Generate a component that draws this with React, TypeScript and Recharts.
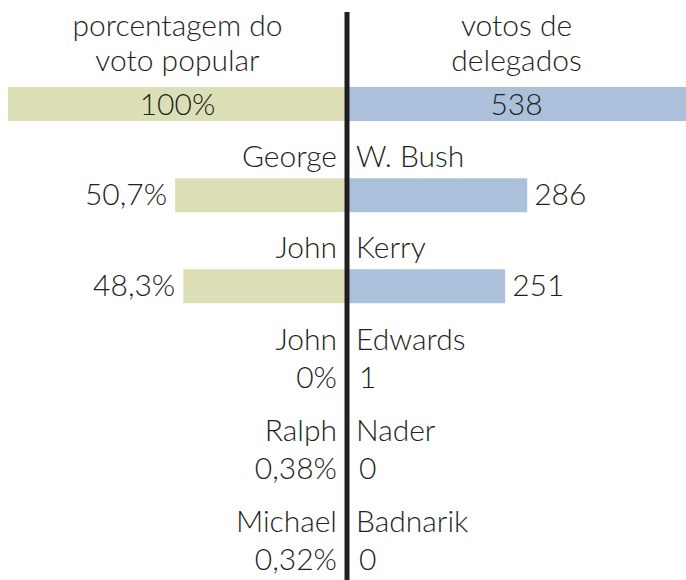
import React from 'react';
import { BarChart, Bar, XAxis, YAxis, ReferenceLine, LabelList } from 'recharts';

const rowKeys = ['total', 'bush', 'kerry', 'edwards', 'nader', 'badnarik'];
const firstNames = ['', 'George', 'John', 'John', 'Ralph', 'Michael'];
const lastNames = ['', 'W. Bush', 'Kerry', 'Edwards', 'Nader', 'Badnarik'];
const popularPct = [100, 50.7, 48.3, 0, 0.38, 0.32];
const popularLabels = ['100%', '50,7%', '48,3%', '0%', '0,38%', '0,32%'];
const electoralVotes = [538, 286, 251, 1, 0, 0];
const electoralLabels = ['538', '286', '251', '1', '0', '0'];
const totalElectoral = 538;
const headerLeft = ['porcentagem do', 'voto popular'];
const headerRight = ['votos de', 'delegados'];

const data = rowKeys.map((k, i) => ({
  key: k,
  left: -popularPct[i],
  right: (electoralVotes[i] / totalElectoral) * 100,
  firstName: firstNames[i],
  lastName: lastNames[i],
  leftInside: i === 0 ? popularLabels[i] : '',
  leftOutside: i === 0 ? '' : popularLabels[i],
  rightInside: i === 0 ? electoralLabels[i] : '',
  rightOutside: i === 0 ? '' : electoralLabels[i],
}));

const FONT = 'Lato, "Open Sans", sans-serif';
const INK = '#231f20';
const textStyle = { fontFamily: FONT, fontWeight: 300, fontSize: 30, fill: INK } as const;

const HeaderTick = (props: any) => {
  const { x, payload } = props;
  const lines = payload.value < 0 ? headerLeft : headerRight;
  return (
    <g>
      <text x={x} y={36} textAnchor="middle" style={textStyle}>{lines[0]}</text>
      <text x={x} y={71} textAnchor="middle" style={textStyle}>{lines[1]}</text>
    </g>
  );
};

const geom = (props: any) => {
  const x = Number(props.x), y = Number(props.y), w = Number(props.width), h = Number(props.height);
  return { l: Math.min(x, x + w), r: Math.max(x, x + w), cy: y + h / 2 };
};

const FirstNameLabel = (props: any) => {
  if (!props.value) return <g />;
  const { cy } = geom(props);
  return <text x={337} y={cy - 28} textAnchor="end" style={textStyle}>{props.value}</text>;
};

const LastNameLabel = (props: any) => {
  if (!props.value) return <g />;
  const { cy } = geom(props);
  return <text x={356} y={cy - 28} textAnchor="start" style={textStyle}>{props.value}</text>;
};

const InsideLabel = (props: any) => {
  if (!props.value) return <g />;
  const { l, r, cy } = geom(props);
  return <text x={(l + r) / 2} y={cy + 11} textAnchor="middle" style={textStyle}>{props.value}</text>;
};

const LeftOutsideLabel = (props: any) => {
  if (!props.value) return <g />;
  const { l, cy } = geom(props);
  return <text x={Math.min(l, 345) - 8} y={cy + 10} textAnchor="end" style={textStyle}>{props.value}</text>;
};

const RightOutsideLabel = (props: any) => {
  if (!props.value) return <g />;
  const { r, cy } = geom(props);
  return <text x={Math.max(r, 352) + 7} y={cy + 10} textAnchor="start" style={textStyle}>{props.value}</text>;
};

const CenterLine = (props: any) => (
  <line x1={props.x1} x2={props.x1} y1={12} y2={580} stroke={INK} strokeWidth={5} />
);

export default function App() {
  return (
    <div style={{ position: 'absolute', left: 0, top: 0, width: 686, height: 580, overflow: 'hidden', background: '#fff' }}>
      <BarChart
        width={686}
        height={606}
        data={data}
        layout="vertical"
        stackOffset="sign"
        margin={{ top: 0, right: 0, bottom: 1, left: 8 }}
      >
        <XAxis
          type="number"
          orientation="top"
          domain={[-100, 100]}
          ticks={[-50, 50]}
          height={58}
          axisLine={false}
          tickLine={false}
          tick={<HeaderTick />}
        />
        <YAxis type="category" dataKey="key" hide />
        <Bar dataKey="left" stackId="a" fill="#dcdfb6" barSize={34} minPointSize={1} isAnimationActive={false}>
          <LabelList dataKey="leftInside" content={<InsideLabel />} />
          <LabelList dataKey="leftOutside" content={<LeftOutsideLabel />} />
          <LabelList dataKey="firstName" content={<FirstNameLabel />} />
        </Bar>
        <Bar dataKey="right" stackId="a" fill="#abc1db" barSize={34} minPointSize={1} isAnimationActive={false}>
          <LabelList dataKey="rightInside" content={<InsideLabel />} />
          <LabelList dataKey="rightOutside" content={<RightOutsideLabel />} />
          <LabelList dataKey="lastName" content={<LastNameLabel />} />
        </Bar>
        <ReferenceLine x={0} ifOverflow="visible" shape={<CenterLine />} />
      </BarChart>
    </div>
  );
}
